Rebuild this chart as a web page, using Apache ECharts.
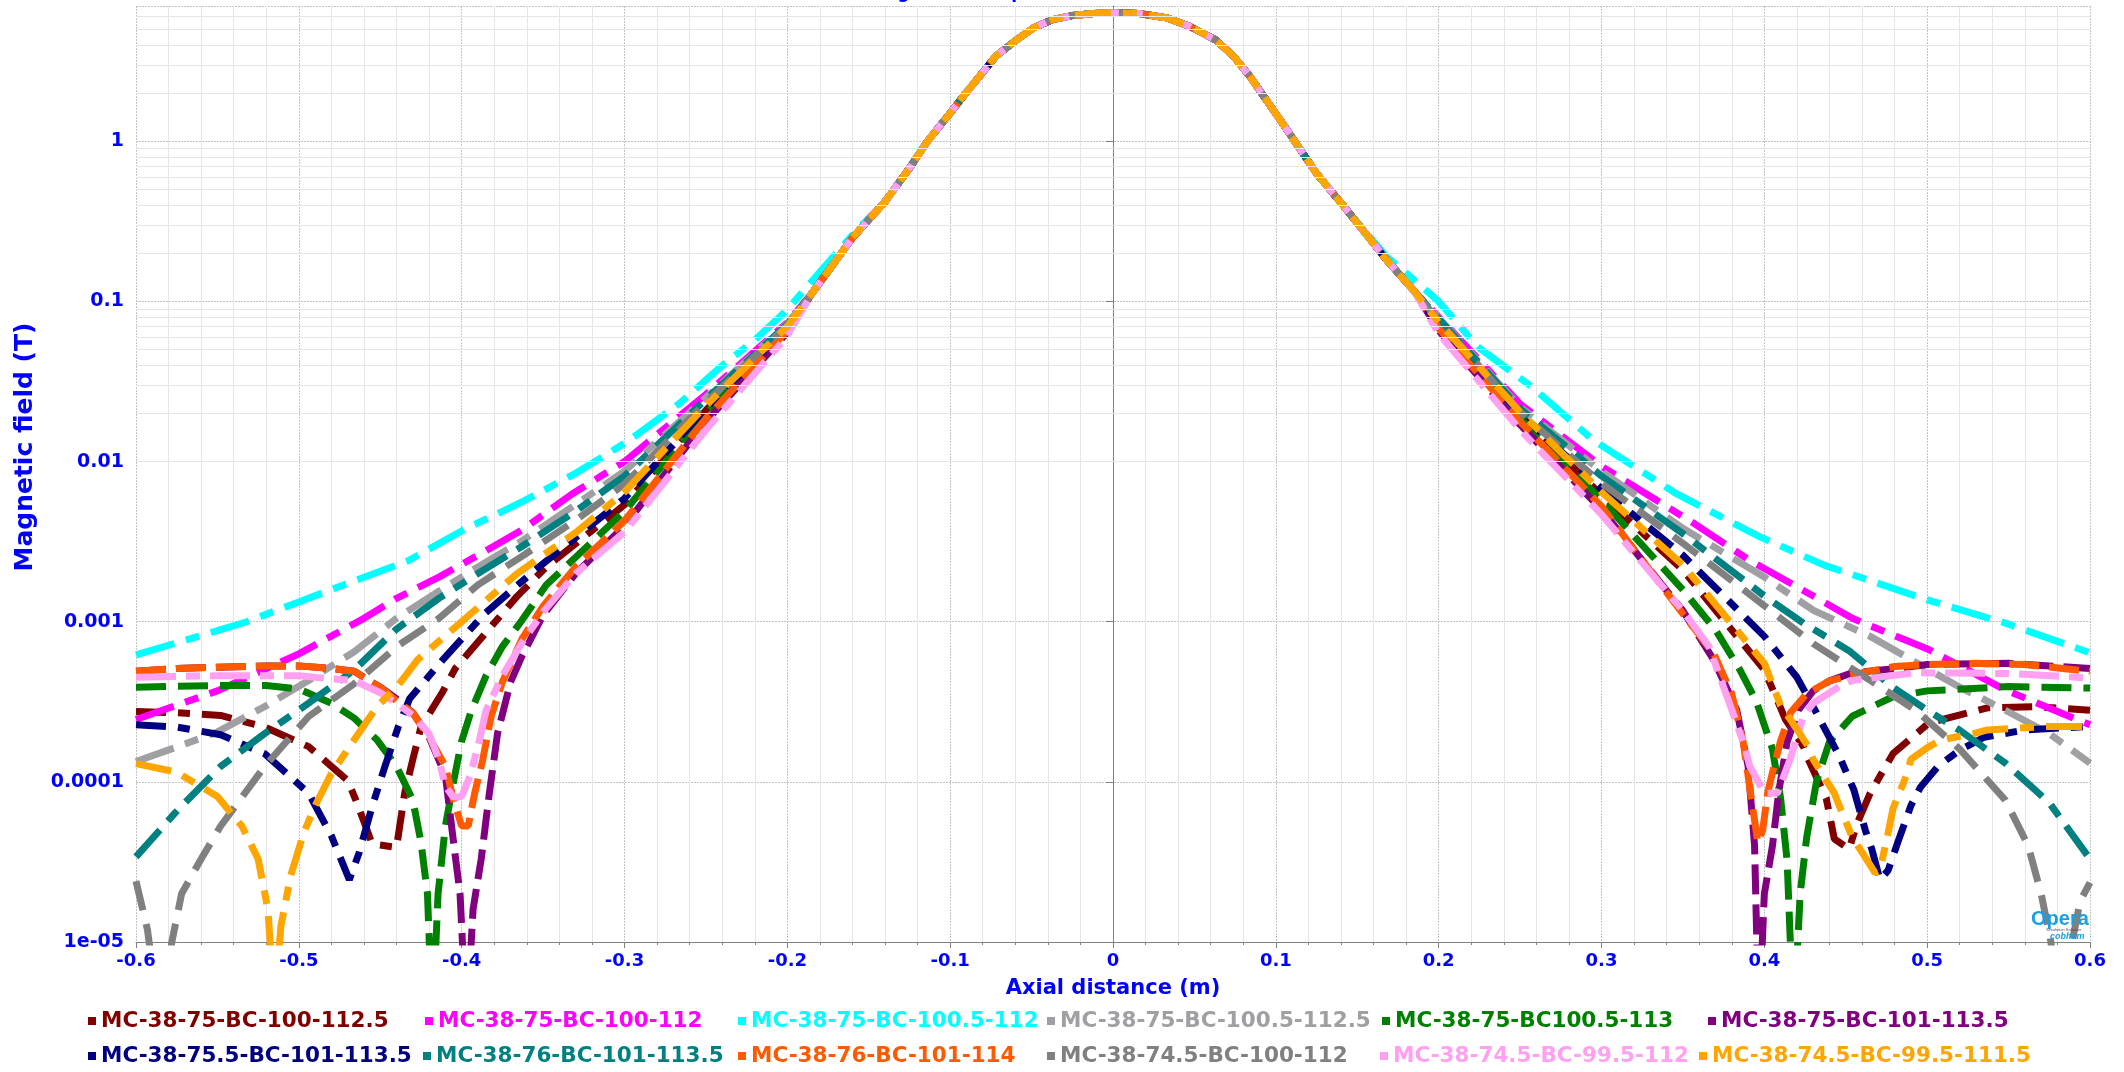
<!DOCTYPE html>
<html lang="en">
<head>
<meta charset="UTF-8">
<title>Magnetic field profile</title>
<script src="https://cdn.jsdelivr.net/npm/echarts@6/dist/echarts.min.js"></script>
<style>
  html, body { margin: 0; padding: 0; background: #fff; }
  #chart { width: 2124px; height: 1072px; }
</style>
</head>
<body>
<div id="chart"></div>
<script>
// legend names, same order as the reference legend
var names = [
    'MC-38-75-BC-100-112.5', 'MC-38-75-BC-100-112', 'MC-38-75-BC-100.5-112',
    'MC-38-75-BC-100.5-112.5', 'MC-38-75-BC100.5-113', 'MC-38-75-BC-101-113.5',
    'MC-38-75.5-BC-101-113.5', 'MC-38-76-BC-101-113.5', 'MC-38-76-BC-101-114',
    'MC-38-74.5-BC-100-112', 'MC-38-74.5-BC-99.5-112', 'MC-38-74.5-BC-99.5-111.5'
]
var colors = ['#800000', '#ff00ff', '#00ffff', '#a0a0a4', '#008000', '#800080',
              '#000080', '#008080', '#ff5a00', '#808080', '#ffa0f0', '#ffa500']
var dashes = [[30,12,12,12], [40,12,14,12], [40,12,14,12], [40,12,14,12], [30,12], [30,10],
              [30,12,12,12], [36,12,14,12], [30,10], [30,14], [40,10,14,10], [36,12,14,12]]

// axial distance (m), field (T) -- common central part, all models overlap here
var core = [[-0.185,0.112],[-0.17,0.181],[-0.16,0.25],[-0.14,0.42],[-0.125,0.68],[-0.114,1.0],
    [-0.1,1.5],[-0.092,1.91],[-0.072,3.4],[-0.059,4.32],[-0.049,5.1],[-0.037,5.76],[-0.025,6.1],
    [-0.012,6.28],[0,6.35],[0.016,6.28],[0.033,5.9],[0.047,5.23],[0.063,4.3],[0.074,3.4],
    [0.084,2.55],[0.104,1.3],[0.125,0.63],[0.142,0.39],[0.168,0.182],[0.185,0.116]]

// tails, left (x<0) and right (x>0) for each model
var maroonL = [[-0.6,2.75e-4],[-0.575,2.7e-4],[-0.548,2.6e-4],[-0.521,2.2e-4],[-0.494,1.66e-4],[-0.48,1.25e-4],[-0.47,1.02e-4],[-0.465,7.7e-5],[-0.459,5.3e-5],[-0.455,4.1e-5],[-0.44,3.9e-5],[-0.435,8.5e-5],[-0.43,1.38e-4],[-0.425,2.2e-4],[-0.412,3.6e-4],[-0.404,5.1e-4],[-0.366,1.44e-3],[-0.348,2.2e-3],[-0.3,5.37e-3],[-0.25,0.0209],[-0.2,0.068]]
var maroonR = [[0.2,0.071],[0.25,0.0195],[0.3,6.17e-3],[0.35,2.1e-3],[0.4,5.0e-4],[0.413,2.45e-4],[0.424,1.66e-4],[0.427,1.38e-4],[0.438,7.9e-5],[0.443,4.4e-5],[0.452,3.8e-5],[0.457,5.5e-5],[0.465,8.5e-5],[0.479,1.5e-4],[0.501,2.33e-4],[0.537,2.9e-4],[0.565,2.95e-4],[0.6,2.8e-4]]

var magentaL = [[-0.6,2.45e-4],[-0.55,3.7e-4],[-0.5,6.3e-4],[-0.46,1.05e-3],[-0.44,1.4e-3],[-0.414,1.9e-3],[-0.39,2.6e-3],[-0.363,3.74e-3],[-0.332,6.3e-3],[-0.3,0.01],[-0.25,0.0263],[-0.2,0.074]]
var magentaR = [[0.2,0.08],[0.25,0.0229],[0.3,9.33e-3],[0.357,4.1e-3],[0.39,2.45e-3],[0.431,1.43e-3],[0.454,1.05e-3],[0.501,6.7e-4],[0.548,3.75e-4],[0.6,2.27e-4]]

var cyanL = [[-0.6,6.2e-4],[-0.55,8.8e-4],[-0.532,1.0e-3],[-0.5,1.33e-3],[-0.466,1.8e-3],[-0.433,2.4e-3],[-0.399,3.74e-3],[-0.363,5.6e-3],[-0.33,8.45e-3],[-0.297,0.0136],[-0.266,0.0232],[-0.241,0.039],[-0.22,0.0575],[-0.2,0.089],[-0.177,0.166],[-0.159,0.267]]
var cyanR = [[0.168,0.19],[0.177,0.16],[0.2,0.1],[0.224,0.052],[0.257,0.0294],[0.295,0.0136],[0.346,6.3e-3],[0.397,3.4e-3],[0.437,2.25e-3],[0.501,1.36e-3],[0.548,9.8e-4],[0.6,6.4e-4]]

var lgrayL = [[-0.6,1.34e-4],[-0.575,1.65e-4],[-0.55,2.05e-4],[-0.521,2.95e-4],[-0.494,4.3e-4],[-0.466,6.5e-4],[-0.44,1.05e-3],[-0.414,1.55e-3],[-0.39,2.2e-3],[-0.363,3.2e-3],[-0.33,5.4e-3],[-0.3,8.71e-3],[-0.25,0.0251],[-0.2,0.073]]
var lgrayR = [[0.2,0.079],[0.25,0.0219],[0.3,8.71e-3],[0.35,3.83e-3],[0.4,1.9e-3],[0.43,1.18e-3],[0.465,8.1e-4],[0.52,3.9e-4],[0.548,2.8e-4],[0.575,2.0e-4],[0.6,1.31e-4]]

var greenL = [[-0.6,3.9e-4],[-0.55,4.0e-4],[-0.52,4.0e-4],[-0.5,3.8e-4],[-0.48,3.1e-4],[-0.466,2.5e-4],[-0.452,1.83e-4],[-0.44,1.25e-4],[-0.43,7.7e-5],[-0.425,4.2e-5],[-0.421,2e-5],[-0.418,3e-6],[-0.4145,2e-5],[-0.41,5.3e-5],[-0.405,1.0e-4],[-0.4,1.8e-4],[-0.394,2.8e-4],[-0.385,4.6e-4],[-0.375,7e-4],[-0.363,1.02e-3],[-0.348,1.7e-3],[-0.3,4.9e-3],[-0.25,0.02],[-0.2,0.067]]
var greenR = [[0.2,0.069],[0.25,0.0186],[0.3,5.75e-3],[0.35,1.58e-3],[0.37,8.9e-4],[0.385,5.0e-4],[0.395,3.2e-4],[0.405,1.6e-4],[0.41,7.9e-5],[0.414,3.2e-5],[0.418,3e-6],[0.422,2e-5],[0.426,4.5e-5],[0.432,1.0e-4],[0.44,1.78e-4],[0.454,2.57e-4],[0.479,3.4e-4],[0.5,3.7e-4],[0.55,3.94e-4],[0.6,3.85e-4]]

var purpleL = [[-0.6,4.9e-4],[-0.575,5.1e-4],[-0.55,5.2e-4],[-0.52,5.3e-4],[-0.5,5.3e-4],[-0.48,5.1e-4],[-0.466,4.9e-4],[-0.45,3.9e-4],[-0.44,3.3e-4],[-0.43,2.7e-4],[-0.42,1.9e-4],[-0.41,1.1e-4],[-0.405,4.2e-5],[-0.401,2e-5],[-0.397,3e-6],[-0.393,1.6e-5],[-0.388,3.3e-5],[-0.383,8.5e-5],[-0.378,2e-4],[-0.37,4.2e-4],[-0.363,6.1e-4],[-0.35,1.1e-3],[-0.33,2e-3],[-0.3,3.98e-3],[-0.25,0.0178],[-0.2,0.064]]
var purpleR = [[0.2,0.066],[0.25,0.017],[0.3,5.01e-3],[0.35,1.17e-3],[0.369,5.75e-4],[0.383,2.82e-4],[0.39,1.26e-4],[0.394,4e-5],[0.3966,3e-6],[0.4,2e-5],[0.405,4e-5],[0.409,8.9e-5],[0.414,1.78e-4],[0.421,2.82e-4],[0.43,3.7e-4],[0.44,4.27e-4],[0.454,4.8e-4],[0.48,5.1e-4],[0.5,5.4e-4],[0.55,5.5e-4],[0.6,5.1e-4]]

var navyL = [[-0.6,2.27e-4],[-0.575,2.2e-4],[-0.548,1.97e-4],[-0.521,1.5e-4],[-0.494,8.5e-5],[-0.48,4.6e-5],[-0.469,2.45e-5],[-0.463,3.6e-5],[-0.455,7e-5],[-0.447,1.26e-4],[-0.439,2.2e-4],[-0.432,3.3e-4],[-0.4115,5.8e-4],[-0.386,1.12e-3],[-0.355,2.1e-3],[-0.3,5.89e-3],[-0.25,0.0214],[-0.2,0.069]]
var navyR = [[0.2,0.072],[0.25,0.02],[0.3,6.76e-3],[0.35,2.6e-3],[0.4,8.1e-4],[0.42,4.5e-4],[0.432,2.7e-4],[0.446,1.45e-4],[0.455,8.9e-5],[0.462,5e-5],[0.466,3.8e-5],[0.471,2.45e-5],[0.476,2.8e-5],[0.482,4.2e-5],[0.49,7.1e-5],[0.496,9.3e-5],[0.507,1.26e-4],[0.52,1.58e-4],[0.535,1.9e-4],[0.56,2.11e-4],[0.6,2.22e-4]]

var tealL = [[-0.6,3.4e-5],[-0.576,6.4e-5],[-0.548,1.25e-4],[-0.521,2.0e-4],[-0.494,3.1e-4],[-0.466,5.0e-4],[-0.44,9.0e-4],[-0.414,1.4e-3],[-0.39,2.0e-3],[-0.363,2.95e-3],[-0.33,4.9e-3],[-0.3,8.13e-3],[-0.25,0.0245],[-0.2,0.072]]
var tealR = [[0.2,0.078],[0.25,0.0214],[0.3,8.13e-3],[0.35,3.55e-3],[0.4,1.45e-3],[0.424,9.8e-4],[0.452,6.6e-4],[0.479,3.9e-4],[0.5,2.8e-4],[0.52,2.1e-4],[0.548,1.31e-4],[0.575,7.4e-5],[0.6,3.3e-5]]

var oredL = [[-0.6,4.9e-4],[-0.575,5.1e-4],[-0.55,5.2e-4],[-0.52,5.3e-4],[-0.5,5.3e-4],[-0.48,5.1e-4],[-0.466,4.9e-4],[-0.45,3.9e-4],[-0.44,3.2e-4],[-0.43,2.7e-4],[-0.42,1.9e-4],[-0.41,1.25e-4],[-0.405,7.7e-5],[-0.4,5.3e-5],[-0.396,5.3e-5],[-0.392,8.5e-5],[-0.387,1.38e-4],[-0.382,2.55e-4],[-0.375,4.2e-4],[-0.363,7.8e-4],[-0.35,1.25e-3],[-0.33,2.2e-3],[-0.3,4.27e-3],[-0.25,0.0186],[-0.2,0.066]]
var oredR = [[0.2,0.068],[0.25,0.0178],[0.3,5.25e-3],[0.35,1.12e-3],[0.369,6.3e-4],[0.38,3.55e-4],[0.387,1.78e-4],[0.392,7.9e-5],[0.396,4.2e-5],[0.399,5e-5],[0.402,8.5e-5],[0.406,1.26e-4],[0.41,1.8e-4],[0.416,2.7e-4],[0.426,3.55e-4],[0.44,4.27e-4],[0.46,4.8e-4],[0.48,5.25e-4],[0.5,5.4e-4],[0.53,5.5e-4],[0.56,5.4e-4],[0.6,4.9e-4]]

var grayL = [[-0.6,2.4e-5],[-0.593,1.2e-5],[-0.585,3e-6],[-0.578,1.0e-5],[-0.572,2.0e-5],[-0.56,3.3e-5],[-0.548,5.3e-5],[-0.521,1.25e-4],[-0.494,2.56e-4],[-0.466,4.1e-4],[-0.439,7.1e-4],[-0.414,1.05e-3],[-0.39,1.7e-3],[-0.363,2.56e-3],[-0.33,4.3e-3],[-0.3,7.24e-3],[-0.25,0.0234],[-0.2,0.071]]
var grayR = [[0.2,0.076],[0.25,0.0204],[0.3,7.33e-3],[0.35,3.09e-3],[0.4,1.26e-3],[0.43,7.3e-4],[0.465,4.3e-4],[0.493,2.8e-4],[0.52,1.6e-4],[0.548,7.7e-5],[0.562,4e-5],[0.57,2e-5],[0.576,1e-5],[0.582,3e-6],[0.589,1e-5],[0.594,1.8e-5],[0.6,2.35e-5]]

var pinkL = [[-0.6,4.5e-4],[-0.55,4.6e-4],[-0.5,4.6e-4],[-0.48,4.4e-4],[-0.466,4.3e-4],[-0.45,3.6e-4],[-0.44,3.1e-4],[-0.43,2.6e-4],[-0.42,2.0e-4],[-0.414,1.38e-4],[-0.41,9.4e-5],[-0.405,8e-5],[-0.4,8.1e-5],[-0.395,1.08e-4],[-0.39,1.66e-4],[-0.385,2.8e-4],[-0.375,4.6e-4],[-0.363,7.4e-4],[-0.35,1.15e-3],[-0.33,2.0e-3],[-0.3,3.63e-3],[-0.25,0.0158],[-0.2,0.061]]
var pinkR = [[0.2,0.063],[0.25,0.0158],[0.3,4.68e-3],[0.35,1.17e-3],[0.366,7e-4],[0.38,2.82e-4],[0.388,1.66e-4],[0.391,1.26e-4],[0.4,8.5e-5],[0.408,8.5e-5],[0.416,1.4e-4],[0.424,2.57e-4],[0.43,3.1e-4],[0.446,3.94e-4],[0.454,4.3e-4],[0.493,4.8e-4],[0.55,4.75e-4],[0.6,4.45e-4]]

var orangeL = [[-0.6,1.3e-4],[-0.575,1.15e-4],[-0.55,8.1e-5],[-0.535,5.3e-5],[-0.525,3.3e-5],[-0.519,1.6e-5],[-0.515,4e-6],[-0.511,1.26e-5],[-0.505,2.6e-5],[-0.497,4.8e-5],[-0.49,7.1e-5],[-0.48,1.13e-4],[-0.466,1.83e-4],[-0.452,2.95e-4],[-0.439,4.0e-4],[-0.427,5.8e-4],[-0.4,1.0e-3],[-0.366,2.0e-3],[-0.33,3.6e-3],[-0.3,6.46e-3],[-0.25,0.0224],[-0.2,0.07]]
var orangeR = [[0.2,0.074],[0.25,0.0204],[0.3,6.46e-3],[0.35,2.26e-3],[0.4,5.5e-4],[0.41,3.0e-4],[0.416,2.45e-4],[0.427,1.66e-4],[0.43,1.38e-4],[0.443,8.5e-5],[0.446,7.1e-5],[0.454,4.5e-5],[0.4626,3.3e-5],[0.468,2.7e-5],[0.471,2.8e-5],[0.476,4.8e-5],[0.479,6.8e-5],[0.487,1.08e-4],[0.49,1.38e-4],[0.501,1.66e-4],[0.509,1.83e-4],[0.529,2.01e-4],[0.537,2.11e-4],[0.575,2.22e-4],[0.6,2.22e-4]]

var tails = [[maroonL, maroonR], [magentaL, magentaR], [cyanL, cyanR], [lgrayL, lgrayR],
             [greenL, greenR], [purpleL, purpleR], [navyL, navyR], [tealL, tealR],
             [oredL, oredR], [grayL, grayR], [pinkL, pinkR], [orangeL, orangeR]]

// axis ticks
var yTickLabels = ['1e-05', '0.0001', '0.001', '0.01', '0.1', '1']
var minorMult = [2, 3, 4, 5, 6, 7, 8, 9]
var decades = [-5, -4, -3, -2, -1, 0]

// legend placement (left, middle y) in pixels
var legendPos = [[88,1023],[425,1023],[738,1023],[1047,1023],[1382,1023],[1708,1023],
                 [88,1058],[423,1058],[738,1058],[1047,1058],[1380,1058],[1699,1058]]

var FONT = '"DejaVu Sans", Verdana, sans-serif'
var BLUE = '#0000ff'

var minorLines = []
decades.forEach(function (d) {
    minorMult.forEach(function (m) {
        var v = m * Math.pow(10, d)
        if (v < 7) minorLines.push({ yAxis: v })
    })
})

var series = [{
    name: 'grid', type: 'line', data: [], silent: true, z: 1,
    markLine: {
        silent: true, symbol: ['none', 'none'], label: { show: false },
        lineStyle: { color: '#e6e6e6', width: 1, type: 'solid' },
        data: minorLines, animation: false
    }
}]
names.forEach(function (n, i) {
    var mid = core
    if (i === 2) mid = core.filter(function (p) { return p[0] >= -0.14 && p[0] <= 0.142 })
    series.push({
        name: n, type: 'line', showSymbol: false, symbol: 'none',
        data: tails[i][0].concat(mid, tails[i][1]),
        lineStyle: { color: colors[i], width: 7, type: dashes[i], cap: 'butt' },
        itemStyle: { color: colors[i] },
        z: 3
    })
})

var legends = names.map(function (n, i) {
    return {
        data: [n], left: legendPos[i][0], top: legendPos[i][1] - 13, padding: 0,
        icon: 'rect', itemWidth: 8, itemHeight: 8, selectedMode: false,
        textStyle: { color: colors[i], fontSize: 21.5, fontWeight: 'bold', fontFamily: FONT }
    }
})

var chart = echarts.init(document.getElementById('chart'))
chart.setOption({
    animation: false,
    backgroundColor: '#fff',
    title: {
        text: 'Magnetic field profile', left: 869, top: -15, padding: 0,
        textStyle: { color: BLUE, fontSize: 17, fontWeight: 'bold', fontFamily: FONT }
    },
    legend: legends,
    grid: { left: 136, right: 34, top: 6, bottom: 130 },
    xAxis: {
        type: 'value', min: -0.6, max: 0.6, interval: 0.1,
        name: 'Axial distance (m)', nameLocation: 'middle', nameGap: 36,
        nameTextStyle: { color: BLUE, fontSize: 21, fontWeight: 'bold', fontFamily: FONT },
        axisLine: { lineStyle: { color: '#808080' } },
        axisTick: { show: true, length: 6, lineStyle: { color: '#808080' } },
        minorTick: { show: true, splitNumber: 5, length: 3, lineStyle: { color: '#808080' } },
        axisLabel: { color: BLUE, fontSize: 18, fontWeight: 'bold', fontFamily: FONT, margin: 10 },
        splitLine: { show: true, lineStyle: { color: '#c4c4c4', type: [2, 1] } },
        minorSplitLine: { show: true, lineStyle: { color: '#e6e6e6' } }
    },
    yAxis: {
        type: 'log', logBase: 10, min: 1e-5, max: 7,
        name: 'Magnetic field (T)', nameLocation: 'middle', nameGap: 98, nameRotate: 90,
        nameTextStyle: { color: BLUE, fontSize: 25, fontWeight: 'bold', fontFamily: FONT,
                         padding: [0, 0, 0, 54] },
        axisLine: { show: true, lineStyle: { color: '#808080' } },
        axisTick: { show: true, length: 7, lineStyle: { color: '#808080' } },
        axisLabel: {
            color: BLUE, fontSize: 19, fontWeight: 'bold', fontFamily: FONT, margin: 12,
            showMaxLabel: false,
            formatter: function (v) {
                var e = Math.log10(v), r = Math.round(e)
                if (Math.abs(e - r) > 1e-6 || r < -5 || r > 0) return ''
                return yTickLabels[r + 5]
            }
        },
        splitLine: { show: true, lineStyle: { color: '#c4c4c4', type: [2, 1] } }
    },
    graphic: [
        { type: 'text', left: 2031, top: 909, z: 100,
          style: { text: 'Opera', fill: '#18a0e6', font: 'bold 20px "Liberation Sans", Arial, sans-serif' } },
        { type: 'text', left: 2046, top: 928, z: 100,
          style: { text: 'Simulation Software', fill: '#555', font: '4px "Liberation Sans", sans-serif' } },
        { type: 'text', left: 2050, top: 932, z: 100,
          style: { text: 'cobham', fill: '#18a0e6', font: 'italic bold 9px "Liberation Sans", sans-serif' } }
    ],
    series: series
})
</script>
</body>
</html>
